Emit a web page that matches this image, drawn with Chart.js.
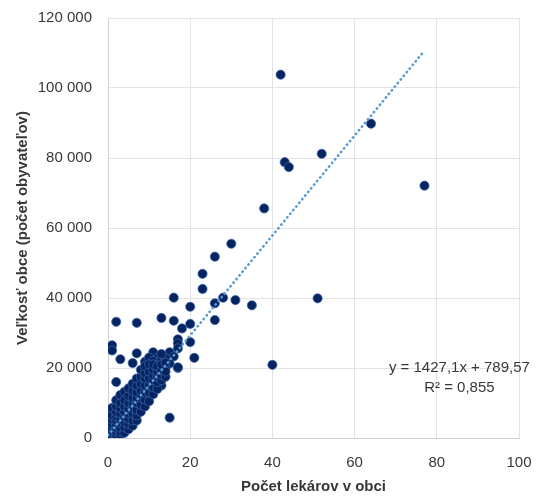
<!DOCTYPE html>
<html>
<head>
<meta charset="utf-8">
<script src="https://cdn.jsdelivr.net/npm/chart.js@4/dist/chart.umd.min.js"></script>
<style>
html,body{margin:0;padding:0;background:#fff;}
#wrap{width:542px;height:497px;}
</style>
</head>
<body>
<div id="wrap"><canvas id="c" width="542" height="497"></canvas></div>
<script>
// Počet lekárov v obci (x) and Veľkosť obce (y)
const doctors = [
  42,64,52,43,44,77,38,30,26,23,23,16,20,26,28,31,35,51,40,15,
  26,13,16,2,7,20,18,17,17,17,20,21,15,16,17,1,1,3,6,7,11,9,2,13,
  12,13,13,15,17,10,11,12,13,14,14,13,
  0,0,0,0,0,0,0,0,
  1,1,1,1,1,1,1,1,
  2,2,2,2,2,2,2,2,2,2,
  3,3,3,3,3,3,3,3,3,
  4,4,4,4,4,4,4,4,
  5,5,5,5,5,5,5,5,
  6,6,6,6,6,6,6,6,
  7,7,7,7,7,7,7,7,
  8,8,8,8,8,8,8,
  9,9,9,9,9,9,9,
  10,10,10,10,10,10,
  11,11,11,11,11,11,
  12,12,12,12,12,
  13,13,13,13,
  14,14,14
];
const population = [
  103800,89800,81200,78800,77400,72100,65600,55500,51800,46900,42600,40100,37500,38500,40100,39400,37900,39900,20900,5800,
  33700,34300,33500,33200,32900,32600,31300,28200,27000,25600,27400,22900,24500,23300,20000,26500,25000,22500,21400,24200,24500,21800,16000,15000,
  22800,20900,19400,21300,20200,23000,22000,21000,22500,20000,22800,24000,
  300,900,1600,2400,3300,4300,5500,7000,
  600,1400,2200,3100,4000,5200,6400,8600,
  300,1000,1900,2900,3900,5000,6200,7400,9000,10800,
  800,1800,3000,4300,5600,7000,8500,10000,12300,
  1500,3000,4500,6000,7500,9000,10800,13200,
  2500,4000,5500,7000,8500,10000,12000,14200,
  3500,5000,7000,8500,10000,11500,13500,15500,
  5000,6500,8000,10000,11500,13000,15000,17000,
  7500,9500,11500,13500,15500,17500,19500,
  9000,11000,13000,15000,17000,18500,20500,
  10500,13000,15000,17000,19000,21000,
  12500,14500,16500,18000,19500,21000,
  14000,16000,17500,19000,20500,
  16500,18000,19500,21000,
  17500,19000,21500
];
// Trendline (as printed on the chart)
const trendSlope = 1427.1;
const trendIntercept = 789.57;
const trendX = [0, 77];
const trendLabel = ["y = 1427,1x + 789,57", "R\u00B2 = 0,855"];
const xTicks = [0, 20, 40, 60, 80, 100];
const yTicks = [0, 20000, 40000, 60000, 80000, 100000, 120000];

const scatterData = doctors.map((d, i) => ({x: d, y: population[i]}));
const trendData = trendX.map(x => ({x: x, y: trendSlope * x + trendIntercept}));

const fmt = v => String(v).replace(/\B(?=(\d{3})+(?!\d))/g, ' ');
const FONT = '"Liberation Sans", Arial, sans-serif';
const TXT = '#383838';

const bgPlugin = {
  id: 'bg',
  beforeDraw(chart) {
    const ctx = chart.ctx;
    ctx.save();
    ctx.fillStyle = '#ffffff';
    ctx.fillRect(0, 0, chart.width, chart.height);
    ctx.restore();
  }
};
const eqPlugin = {
  id: 'eq',
  afterDatasetsDraw(chart) {
    const ctx = chart.ctx;
    const xs = chart.scales.x, ys = chart.scales.y;
    const cx = xs.getPixelForValue(85.5);
    const cy = ys.getPixelForValue(20000);
    ctx.save();
    ctx.font = '15px ' + FONT;
    ctx.fillStyle = TXT;
    ctx.textAlign = 'center';
    ctx.textBaseline = 'middle';
    ctx.fillText(trendLabel[0], cx, cy);
    ctx.fillText(trendLabel[1], cx, cy + 20);
    ctx.restore();
  }
};

new Chart(document.getElementById('c'), {
  type: 'scatter',
  data: {
    datasets: [
      {
        type: 'line',
        data: trendData,
        borderColor: '#5b9bd5',
        borderWidth: 2.5,
        borderDash: [0.5, 4.2],
        borderCapStyle: 'round',
        pointRadius: 0,
        fill: false,
        order: 0
      },
      {
        data: scatterData,
        backgroundColor: '#06245f',
        borderColor: 'rgba(60,105,175,0.9)',
        borderWidth: 0.8,
        pointRadius: 4.6,
        order: 1
      }
    ]
  },
  options: {
    responsive: false,
    animation: false,
    devicePixelRatio: 1,
    layout: {padding: {top: 18, right: 23, bottom: 0, left: 0}},
    plugins: {legend: {display: false}, tooltip: {enabled: false}},
    scales: {
      x: {
        type: 'linear', min: 0, max: 100,
        afterBuildTicks: s => { s.ticks = xTicks.map(v => ({value: v})); },
        afterFit: s => { s.height = 59; },
        grid: {color: '#e3e3e3', lineWidth: 1, drawTicks: true, tickLength: 16, tickColor: 'rgba(0,0,0,0)'},
        border: {color: '#d0d0d0'},
        ticks: {padding: 0, color: TXT, font: {size: 15, family: FONT}},
        title: {display: true, text: 'Počet lekárov v obci', color: TXT,
          font: {size: 15, weight: 'bold', family: FONT},
          padding: {top: 0, bottom: 1}}
      },
      y: {
        type: 'linear', min: 0, max: 120000,
        afterBuildTicks: s => { s.ticks = yTicks.map(v => ({value: v})); },
        afterFit: s => { s.width = 108; },
        grid: {color: '#e3e3e3', lineWidth: 1, drawTicks: true, tickLength: 16, tickColor: 'rgba(0,0,0,0)'},
        border: {color: '#d0d0d0'},
        ticks: {padding: 0, color: TXT, callback: v => fmt(v),
          font: {size: 15, family: FONT}},
        title: {display: true, text: 'Veľkosť obce (počet obyvateľov)', color: TXT,
          font: {size: 15, weight: 'bold', family: FONT},
          padding: {top: 14, bottom: 0}}
      }
    }
  },
  plugins: [bgPlugin, eqPlugin]
});
</script>
</body>
</html>
